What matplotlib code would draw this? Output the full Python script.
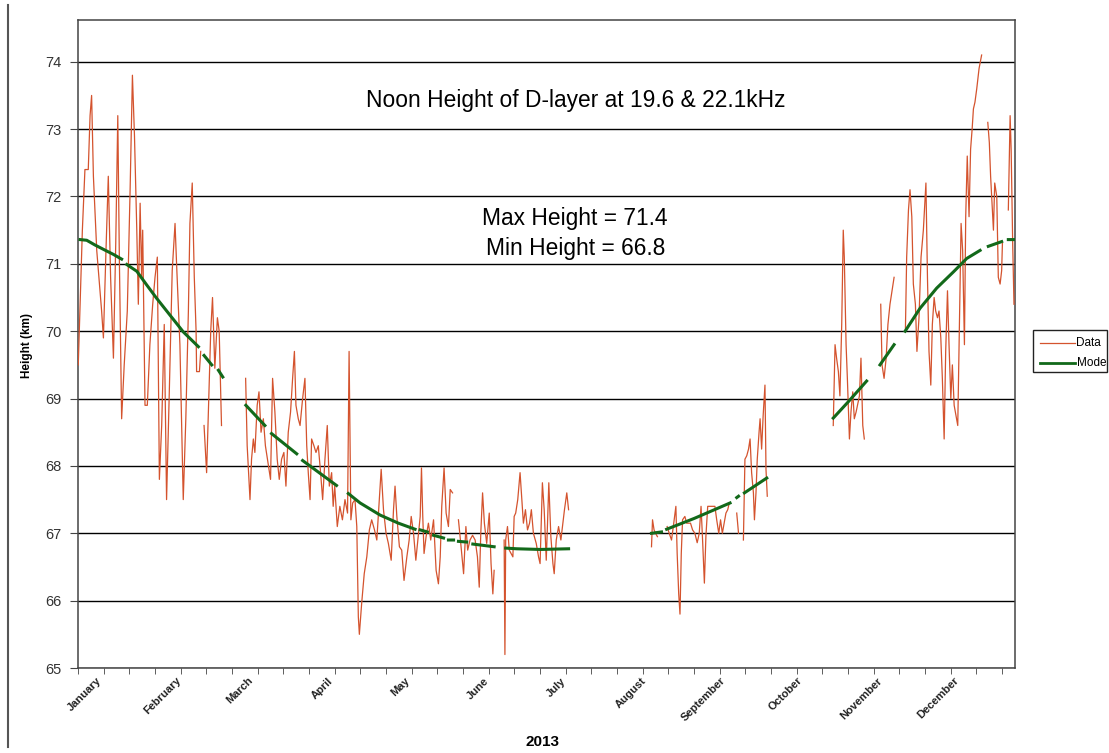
import numpy as np
import matplotlib
matplotlib.use("Agg")
import matplotlib.pyplot as plt
from matplotlib.lines import Line2D
from matplotlib.patches import Rectangle

plt.rcParams['font.family'] = ['Liberation Sans', 'DejaVu Sans']

nan = np.nan

# measured D-layer height, day of year 2013 vs km (nan = no data)
data_day = [0.1, 1.7, 2.7, 4.0, 4.7, 5.3, 6.0, 7.3, 9.2, 9.9, 10.9, 11.8, 12.7, 13.8, 14.7, 15.5, 16.1, 17.0, 18.0,
            19.2, 20.3, 21.2, 22.0, 22.9, 23.5, 24.2, 24.8, 25.2, 26.1, 27.0, 28.0, 29.1, 30.0, 30.9, 31.7, 32.6,
            33.6, 34.5, 35.5, 36.7, 37.8, 38.4, 39.7, 41.0, 42.0, 43.0, 43.6, 44.5, 45.3, 46.0, 46.2, 47.3, 47.8, 48.4,
            49.1, 50.1, 50.7, 51.7, 52.4, 53.3, 54.3, 55.0, 55.9, 56.5,
            65.3, 65.9, 67.0, 67.6, 68.3, 68.9, 69.8, 70.5, 71.3, 72.2, 73.0, 75.0, 75.8, 76.7, 77.6, 78.4, 79.3, 80.2,
            81.0, 81.9, 82.8, 83.6, 84.3, 84.9, 85.8, 86.5, 87.5, 88.4, 89.1, 89.7, 90.4, 91.0, 91.9, 92.7, 93.6, 94.5,
            95.3, 96.2, 97.1, 97.9, 98.8, 99.4, 100.0, 101.0, 102.0, 103.0, 104.0, 105.0, 105.6, 106.3, 107.0, 107.9,
            108.6, 109.2, 109.6, 110.5, 111.5, 112.5, 113.5, 114.4, 115.5, 116.4, 117.3, 118.1, 119.0, 120.0, 120.9,
            122.0, 122.9, 123.5, 124.2, 125.2, 126.1, 127.0, 128.1, 129.0, 129.8, 130.7, 131.6, 132.4, 133.3, 133.8,
            134.3, 134.8, 135.6, 136.5, 137.4, 138.5, 139.5, 140.4, 141.1, 141.7, 142.6, 143.4, 144.3, 145.0, 145.9,
            147.0, 148.2, 149.1, 150.2, 151.1, 151.8, 152.7, 153.7, 154.7, 155.6, 156.3, 156.9, 157.6, 158.3, 159.2,
            160.2, 160.9, 161.6, 162.1, 164.0, 166.0, 166.3, 166.6, 167.3, 168.0, 169.4, 169.9, 170.5, 171.3, 172.2,
            172.9, 173.5, 174.3, 175.1, 175.9, 176.6, 177.4, 178.5, 179.4, 180.0, 180.9, 181.6, 182.4, 182.9, 183.4,
            184.2, 185.0, 185.5, 186.3, 187.2, 188.1, 188.9, 189.5, 190.4, 191.1, 192.0,
            223.4, 223.8, 224.4, 225.0, 225.7, 227.5, 229.5, 230.3, 231.2, 231.9, 232.9, 233.4, 234.0, 234.5, 235.0,
            235.5, 236.4, 237.1, 238.6, 239.4, 240.3, 241.2, 242.0, 242.7, 243.3, 244.0, 244.6, 245.3, 246.2, 247.2,
            248.1, 248.8, 249.6, 250.3, 251.0, 252.4, 253.1, 253.7, 255.0, 256.6, 257.3, 258.2, 259.2, 259.8, 260.5,
            261.2, 261.8, 262.4, 263.1, 263.5, 264.1, 264.6, 265.3, 265.7, 266.3, 266.9, 267.6, 268.0, 268.5, 270.0,
            294.2, 294.9, 295.5, 296.2, 296.8, 297.5, 298.1, 298.5, 299.2, 299.7, 300.5, 301.1, 301.8, 302.4, 303.1,
            304.4, 305.0, 305.7, 306.3, 309.0, 312.7, 313.2, 314.0, 314.8, 315.5, 316.3, 317.1, 317.9, 320.0, 322.3,
            322.8, 323.5, 324.1, 324.8, 325.4, 326.2, 326.8, 327.6, 328.4, 329.3, 330.3, 330.9, 331.5, 332.2, 332.8,
            333.5, 334.1, 334.8, 335.4, 336.1, 336.7, 337.4, 338.0, 338.7, 339.3, 340.0, 340.6, 341.3, 342.7, 343.3,
            344.0, 344.6, 345.3, 345.8, 346.4, 347.1, 347.7, 348.3, 348.8, 349.4, 350.1, 351.0, 352.0, 353.2, 354.4,
            355.0, 355.5, 356.2, 356.6, 357.1, 357.9, 358.5, 359.2, 359.8, 360.1, 361.2, 362.4, 363.1, 363.5, 364.1,
            364.6]
data_km = [69.5, 71.5, 72.4, 72.4, 73.2, 73.5, 72.3, 71.2, 70.3, 69.9, 71.2, 72.3, 70.8, 69.6, 71.3, 73.2, 71.1, 68.7, 69.5,
           70.3, 72.1, 73.8, 72.9, 71.5, 70.4, 71.9, 70.8, 71.5, 68.9, 68.9, 69.8, 70.4, 70.8, 71.1, 67.8, 68.6,
           70.1, 67.5, 69.0, 70.9, 71.6, 71.0, 69.8, 67.5, 68.7, 70.3, 71.6, 72.2, 70.8, 70.0, 69.4, 69.4, 69.7, nan,
           68.6, 67.9, 68.7, 70.0, 70.5, 69.45, 70.2, 70.0, 68.6, nan,
           69.3, 68.3, 67.5, 68.1, 68.4, 68.2, 68.9, 69.1, 68.5, 68.7, 68.3, 67.8, 69.3, 68.8, 68.1, 67.8, 68.1, 68.2,
           67.7, 68.5, 68.8, 69.3, 69.7, 68.9, 68.7, 68.6, 69.0, 69.3, 68.3, 67.9, 67.5, 68.4, 68.3, 68.2, 68.3, 67.9,
           67.5, 68.1, 68.6, 67.7, 67.9, 67.4, 67.7, 67.1, 67.4, 67.2, 67.5, 67.3, 69.7, 67.2, 67.45, 67.5,
           67.1, 65.76, 65.5, 65.96, 66.4, 66.65, 67.05, 67.2, 67.05, 66.9, 67.45, 67.95, 67.35, 67.0, 66.85,
           66.6, 67.35, 67.7, 67.25, 66.8, 66.75, 66.3, 66.65, 66.9, 67.25, 67.0, 66.6, 66.9, 67.25, 67.97,
           67.25, 66.7, 66.95, 67.15, 66.9, 67.2, 66.45, 66.25, 66.65, 67.4, 67.97, 67.3, 67.1, 67.65, 67.6,
           nan, 67.2, 66.85, 66.4, 67.1, 66.75, 66.9, 66.97, 66.9, 66.65, 66.2, 67.0, 67.6, 67.15, 66.85,
           67.3, 66.55, 66.1, 66.45, nan, 66.9, 65.2, 66.9, 67.1, 66.75, 66.65, 67.25, 67.3, 67.5, 67.9,
           67.5, 67.15, 67.35, 67.05, 67.15, 67.35, 67.0, 66.85, 66.65, 66.55, 67.75, 67.35, 66.6, 67.15, 67.75,
           66.95, 66.55, 66.4, 66.9, 67.1, 66.9, 67.15, 67.35, 67.6, 67.35, nan,
           66.8, 67.2, 67.05, 67.0, 66.95, nan, 67.1, 67.0, 66.9, 67.1, 67.4, 66.7, 66.1, 65.8, 66.7,
           67.2, 67.25, 67.15, 67.15, 67.05, 67.0, 66.86, 67.0, 67.4, 66.9, 66.26, 66.96, 67.4, 67.4, 67.4,
           67.4, 67.2, 67.0, 67.2, 67.0, 67.3, 67.35, 67.45, nan, 67.3, 67.0, nan, 66.9, 68.1, 68.15,
           68.25, 68.4, 67.9, 67.6, 67.2, 67.6, 68.1, 68.5, 68.7, 68.25, 68.75, 69.2, 67.95, 67.55, nan,
           68.6, 69.8, 69.6, 69.4, 69.04, 70.1, 71.5, 71.1, 69.8, 69.3, 68.4, 68.8, 69.1, 68.7, 68.8,
           69.04, 69.6, 68.6, 68.4, nan, 70.4, 69.5, 69.3, 69.6, 70.1, 70.4, 70.6, 70.8, nan, 70.0,
           71.1, 71.8, 72.1, 71.7, 70.7, 70.4, 69.7, 70.2, 71.1, 71.5, 72.2, 70.8, 69.7, 69.2, 70.1,
           70.5, 70.3, 70.2, 70.3, 69.9, 69.3, 68.4, 69.7, 70.6, 69.8, 69.0, 69.5, 68.9, 68.6, 70.0,
           71.6, 71.2, 69.8, 71.7, 72.6, 71.7, 72.7, 73.0, 73.3, 73.4, 73.6, 73.9, 74.1, nan, 73.1,
           72.8, 72.3, 71.8, 71.5, 72.2, 72.0, 70.8, 70.7, 70.9, 71.3, nan, 71.8, 73.2, 72.7, 71.3,
           70.4]

# model curve (drawn only where data exists)
model_day = [0.8, 3.4, 6.6, 11.2, 13.8, 17.0, 18.0, 19.0, 22.9, 26.7, 30.6, 35.8, 41.0, 46.9, 48.0, 49.1, 52.1, 53.4,
             54.7, 56.4, 60.0, 65.4, 72.8, 74.0, 75.4, 85.2, 86.3, 87.5, 100.7, 103.0, 105.3, 109.9, 117.7, 124.8,
             131.3, 132.3, 133.3, 136.1, 137.3, 138.5, 142.4, 143.3, 144.3, 146.3, 147.2, 148.2, 151.4, 152.6,
             153.8, 162.1, 164.0, 166.6, 170.9, 180.0, 191.1, 200.0, 223.4, 227.3, 228.3, 229.3, 240.0, 254.0,
             255.3, 256.6, 257.3, 258.4, 259.6, 268.3, 280.0, 294.2, 300.0, 307.2, 310.0, 312.4, 317.9, 320.0,
             322.2, 328.0, 334.5, 341.0, 346.2, 351.4, 353.0, 354.6, 359.8, 361.1, 362.4, 365.0]
model_km = [71.36, 71.35, 71.28, 71.19, 71.14, 71.07, nan, 70.99, 70.89, 70.69, 70.49, 70.24, 69.99, 69.77, nan, 69.64, 69.5, nan,
            69.42, 69.32, nan, 68.9, 68.6, nan, 68.48, 68.18, nan, 68.08, 67.71, nan, 67.59, 67.45, 67.27, 67.15,
            67.06, nan, 67.05, 67.02, nan, 66.97, 66.93, nan, 66.9, 66.9, nan, 66.88, 66.87, nan,
            66.84, 66.8, nan, 66.78, 66.77, 66.76, 66.77, nan, 67.0, 67.02, nan, 67.06, 67.22, 67.45,
            nan, 67.53, 67.55, nan, 67.6, 67.82, nan, 68.71, 68.95, 69.26, nan, 69.5, 69.8, nan,
            70.0, 70.34, 70.64, 70.88, 71.08, 71.2, nan, 71.26, 71.33, nan, 71.36, 71.36]

months = ['January', 'February', 'March', 'April', 'May', 'June', 'July',
          'August', 'September', 'October', 'November', 'December']
month_start = [0, 31, 59, 90, 120, 151, 181, 212, 243, 273, 304, 334]

W, H = 1109, 753
fig = plt.figure(figsize=(W / 100, H / 100), dpi=100)
ax = fig.add_axes([78 / W, 1 - 668 / H, (1015 - 78) / W, (668 - 20) / H])

ax.plot(data_day, data_km, color='#d4532e', lw=0.9, zorder=3)
ax.plot(model_day, model_km, color='#12691a', lw=2.2, zorder=4)

ax.set_xlim(0, 365)
ax.set_ylim(65, 74.62)
ax.set_yticks(range(65, 75))
ax.yaxis.grid(True, color='black', lw=1.0)
ax.set_axisbelow(True)
for s in ax.spines.values():
    s.set_color('#444444')
    s.set_linewidth(1.1)

ax.tick_params(axis='y', direction='out', length=6, pad=6, labelsize=10.5, labelcolor='#333333', color='#444444')
ax.set_xticks(np.arange(0, 366, 10), minor=True)
ax.tick_params(axis='x', which='minor', direction='out', length=4, color='#444444')
ax.set_xticks([m + 8.5 for m in month_start])
ax.set_xticklabels(months, rotation=45, ha='right', va='center', rotation_mode='anchor',
                   fontsize=8, fontweight='bold', color='#222222')
ax.tick_params(axis='x', which='major', length=0, pad=8)

fig.text(27 / W, 1 - 345 / H, 'Height (km)', rotation=90, ha='center', va='center', fontsize=8.5, fontweight='bold')
fig.text(542 / W, 1 - 742 / H, '2013', ha='center', va='center', fontsize=11, fontweight='bold')

fig.text(576 / W, 1 - 101 / H, 'Noon Height of D-layer at 19.6 & 22.1kHz', ha='center', va='center', fontsize=16.4)
fig.text(575 / W, 1 - 219 / H, 'Max Height = 71.4', ha='center', va='center', fontsize=16.4)
fig.text(576 / W, 1 - 249 / H, 'Min Height = 66.8', ha='center', va='center', fontsize=16.4)

# left border line of the original window
fig.add_artist(Line2D([8 / W, 8 / W], [0.008, 0.993], transform=fig.transFigure, color='#555555', lw=1.5))

# legend box, cut at its right edge like the original
box = Rectangle((1033 / W, 1 - 372 / H), (1107 - 1033) / W, 42 / H, transform=fig.transFigure,
                facecolor='white', edgecolor='#222222', lw=1.0)
fig.add_artist(box)
fig.add_artist(Line2D([1040 / W, 1075 / W], [1 - 343 / H] * 2, transform=fig.transFigure, color='#d4532e', lw=0.9))
fig.add_artist(Line2D([1040 / W, 1075 / W], [1 - 363 / H] * 2, transform=fig.transFigure, color='#12691a', lw=2.0))
t1 = fig.text(1076 / W, 1 - 343 / H, 'Data', ha='left', va='center', fontsize=8.5)
t2 = fig.text(1077 / W, 1 - 363 / H, 'Model', ha='left', va='center', fontsize=8.5)
for t in (t1, t2):
    t.set_clip_path(box)

fig.savefig('out.png', dpi=100)
